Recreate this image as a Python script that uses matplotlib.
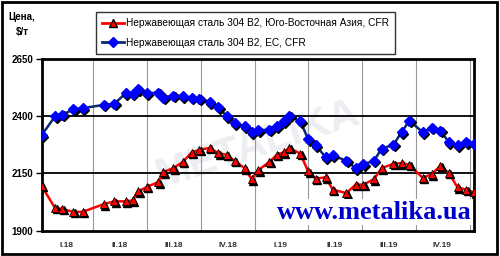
import matplotlib
matplotlib.use("Agg")
import matplotlib.pyplot as plt
import matplotlib.transforms as mtransforms
from matplotlib.patches import Rectangle
import pandas as pd

plt.rcParams['font.family'] = ['Liberation Sans', 'DejaVu Sans']

dates = ["2018-01-03", "2018-01-26", "2018-02-07", "2018-02-26", "2018-03-14",
         "2018-04-19", "2018-05-07", "2018-05-26", "2018-06-07", "2018-06-16",
         "2018-07-01", "2018-07-20", "2018-07-29", "2018-08-15", "2018-08-31",
         "2018-09-15", "2018-09-28", "2018-10-16", "2018-10-30", "2018-11-14",
         "2018-11-27", "2018-12-14", "2018-12-26", "2019-01-06", "2019-01-25",
         "2019-02-07", "2019-02-19", "2019-02-28", "2019-03-19", "2019-04-01",
         "2019-04-14", "2019-05-01", "2019-05-13", "2019-06-05", "2019-06-21",
         "2019-07-04", "2019-07-22", "2019-08-04", "2019-08-24", "2019-09-07",
         "2019-09-20", "2019-10-13", "2019-10-28", "2019-11-12", "2019-11-26",
         "2019-12-11", "2019-12-26", "2020-01-08"]

asia = [2096, 1999, 1995, 1982, 1982, 2016, 2028, 2028, 2032, 2071,
        2091, 2112, 2156, 2173, 2200, 2241, 2253, 2261, 2239, 2231,
        2205, 2173, 2125, 2163, 2200, 2231, 2243, 2261, 2236, 2159,
        2127, 2133, 2079, 2064, 2101, 2101, 2125, 2173, 2192, 2195,
        2188, 2130, 2147, 2183, 2152, 2089, 2079, 2067]

eu = [2316, 2399, 2406, 2429, 2435, 2449, 2454, 2500, 2497, 2518,
      2499, 2503, 2481, 2490, 2487, 2481, 2476, 2460, 2439, 2400,
      2370, 2355, 2330, 2339, 2340, 2356, 2378, 2401, 2377, 2300,
      2272, 2221, 2229, 2205, 2173, 2190, 2205, 2258, 2275, 2330,
      2380, 2330, 2350, 2336, 2287, 2272, 2285, 2278]

label_asia = "Нержавеющая сталь 304 В2, Юго-Восточная Азия, CFR"
label_eu = "Нержавеющая сталь 304 В2, ЕС, CFR"

quarter_starts = ["2018-04-01", "2018-07-01", "2018-10-01", "2019-01-01",
                  "2019-04-01", "2019-07-01", "2019-10-01", "2020-01-01"]
quarter_mids = ["2018-02-14", "2018-05-16", "2018-08-16", "2018-11-15",
                "2019-02-14", "2019-05-16", "2019-08-16", "2019-11-15"]
quarter_labels = ["I.18", "II.18", "III.18", "IV.18",
                  "I.19", "II.19", "III.19", "IV.19"]
yticks = [1900, 2150, 2400, 2650]

x = pd.to_datetime(dates)

fig = plt.figure(figsize=(5, 2.56), dpi=100)
ax = fig.add_axes([0.083, 0.099, 0.865, 0.671])

# faint watermark
ax.text(0.5, 0.5, "METALIKA", transform=ax.transAxes, fontsize=30,
        fontweight='bold', color='#eceef1', rotation=18, ha='center',
        va='center', zorder=0)

shadow = mtransforms.offset_copy(ax.transData, fig=fig, x=1.5, y=-1.5, units='dots')

ax.plot(x, eu, color='#0a2a6e', lw=1.8, zorder=3)
ax.plot(x, eu, ls='none', marker='D', ms=5, color='black', transform=shadow, zorder=4)
ax.plot(x, eu, ls='none', marker='D', ms=5, mfc='#0000ff', mec='#0000ff', zorder=5)

ax.plot(x, asia, color='#ff0000', lw=1.8, zorder=3)
ax.plot(x, asia, ls='none', marker='^', ms=6, color='black', transform=shadow, zorder=4)
ax.plot(x, asia, ls='none', marker='^', ms=6, mfc='#ff0000', mec='black', mew=0.6, zorder=5)

ax.set_xlim(x[0], x[-1])
ax.set_ylim(1900, 2650)
ax.set_yticks(yticks)
ax.set_yticklabels([str(v) for v in yticks], fontsize=7, fontweight='bold')
ax.tick_params(axis='y', length=4, width=1, pad=2)
for v in [2150, 2400]:
    ax.axhline(v, color='black', lw=1.3, zorder=2)

ax.set_xticks(pd.to_datetime(quarter_starts))
ax.set_xticklabels([])
ax.set_xticks(pd.to_datetime(quarter_mids), minor=True)
ax.set_xticklabels(quarter_labels, minor=True, fontsize=6, fontweight='bold', color='#333333')
ax.tick_params(axis='x', which='both', length=0, pad=8)
ax.grid(axis='x', which='major', color='#999999', lw=0.8)

for s in ax.spines.values():
    s.set_linewidth(2)
    s.set_color('black')

fig.text(0.044, 0.955, "Цена,\n$/т", fontsize=7, fontweight='bold', ha='center', va='top',
         linespacing=1.7)

h1, = ax.plot([], [], color='#ff0000', lw=2, marker='^', ms=6, mfc='#ff0000', mec='black')
h2, = ax.plot([], [], color='#0a2a6e', lw=2, marker='D', ms=5, mfc='#0000ff', mec='#0000ff')
leg = ax.legend([h1, h2], [label_asia, label_eu], loc='upper left',
                bbox_to_anchor=(96 / 500, 1 - 12 / 256), bbox_transform=fig.transFigure,
                fontsize=7.3, frameon=True, fancybox=False, edgecolor='black',
                handlelength=2.2, handletextpad=0.2, borderpad=0.6, labelspacing=0.95,
                numpoints=1, borderaxespad=0)
leg.get_frame().set_linewidth(1)

ax.text(0.995, 0.04, "www.metalika.ua", transform=ax.transAxes, ha='right', va='bottom',
        fontsize=19, fontweight='bold', family='Liberation Serif', color='#0000cc',
        zorder=6, bbox=dict(facecolor='white', edgecolor='none', pad=1))

fig.patches.append(Rectangle((0.003, 0.008), 0.99, 0.985, transform=fig.transFigure,
                             fill=False, edgecolor='black', lw=2))

fig.savefig("out.png", dpi=100)
